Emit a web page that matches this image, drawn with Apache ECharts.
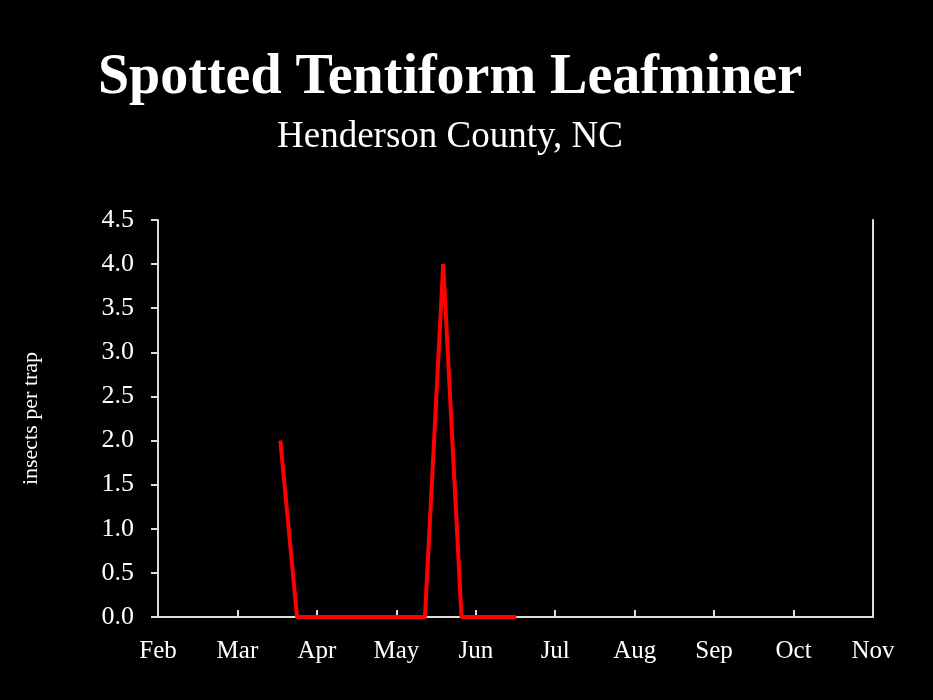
<!DOCTYPE html>
<html>
<head>
<meta charset="utf-8">
<script src="https://cdn.jsdelivr.net/npm/echarts@6/dist/echarts.min.js"></script>
<style>
html,body{margin:0;padding:0;background:#000;}
#one{width:933px;height:700px;}
</style>
</head>
<body>
<div id="one"></div>
<script>
// months counted from Feb 1 (0) to Nov 1 (9)
var monthLabels = ["Feb","Mar","Apr","May","Jun","Jul","Aug","Sep","Oct","Nov"];
var sampleDates = [1.54,1.75,1.98,2.21,2.44,2.67,2.90,3.13,3.36,3.59,3.82,4.05,4.28,4.51];
var insectsPerTrap = [2,0,0,0,0,0,0,0,0,4,0,0,0,0];

window.onload = function(){
  var myChart = echarts.init(document.getElementById('one'));
  var font = 'Liberation Serif';
  var pts = [];
  for(var i=0;i<sampleDates.length;i++){
    pts.push([sampleDates[i], insectsPerTrap[i]]);
  }

  var opt = {
    backgroundColor:'#000',
    animation:false,
    title:[{
      text:'Spotted Tentiform Leafminer',
      left:445, top:46, textAlign:'center',
      textStyle:{color:'#fff', fontFamily:font, fontSize:56, fontWeight:'bold'}
    },{
      text:'Henderson County, NC',
      left:445, top:114, textAlign:'center',
      textStyle:{color:'#fff', fontFamily:font, fontSize:37, fontWeight:'normal'}
    }],
    grid:{left:158, right:60, top:220, bottom:83},
    xAxis:{
      type:'value', min:0, max:9, interval:1,
      axisLine:{lineStyle:{color:'#ddd', width:2}},
      axisTick:{show:true, inside:true, length:7, lineStyle:{color:'#ddd', width:2}},
      splitLine:{show:false},
      axisLabel:{color:'#fff', fontFamily:font, fontSize:25, margin:22,
        formatter:function(v){ return monthLabels[v]; }}
    },
    yAxis:[{
      type:'value', min:0, max:4.5, interval:0.5,
      name:'insects per trap', nameLocation:'middle', nameGap:116, nameRotate:90,
      nameTextStyle:{color:'#fff', fontFamily:font, fontSize:22},
      axisLine:{show:true, lineStyle:{color:'#ddd', width:2}},
      axisTick:{show:true, length:7, lineStyle:{color:'#ddd', width:2}},
      splitLine:{show:false},
      axisLabel:{color:'#fff', fontFamily:font, fontSize:26, margin:24,
        formatter:function(v){ return v.toFixed(1); }}
    },{
      type:'value', min:0, max:4.5, interval:0.5, position:'right',
      axisLine:{show:true, lineStyle:{color:'#ddd', width:2}},
      axisTick:{show:false}, axisLabel:{show:false}, splitLine:{show:false}
    }],
    series:[{
      type:'line',
      data:pts,
      showSymbol:false,
      lineStyle:{color:'#ff0000', width:4}
    }]
  };

  myChart.setOption(opt);
};
</script>
</body>
</html>
